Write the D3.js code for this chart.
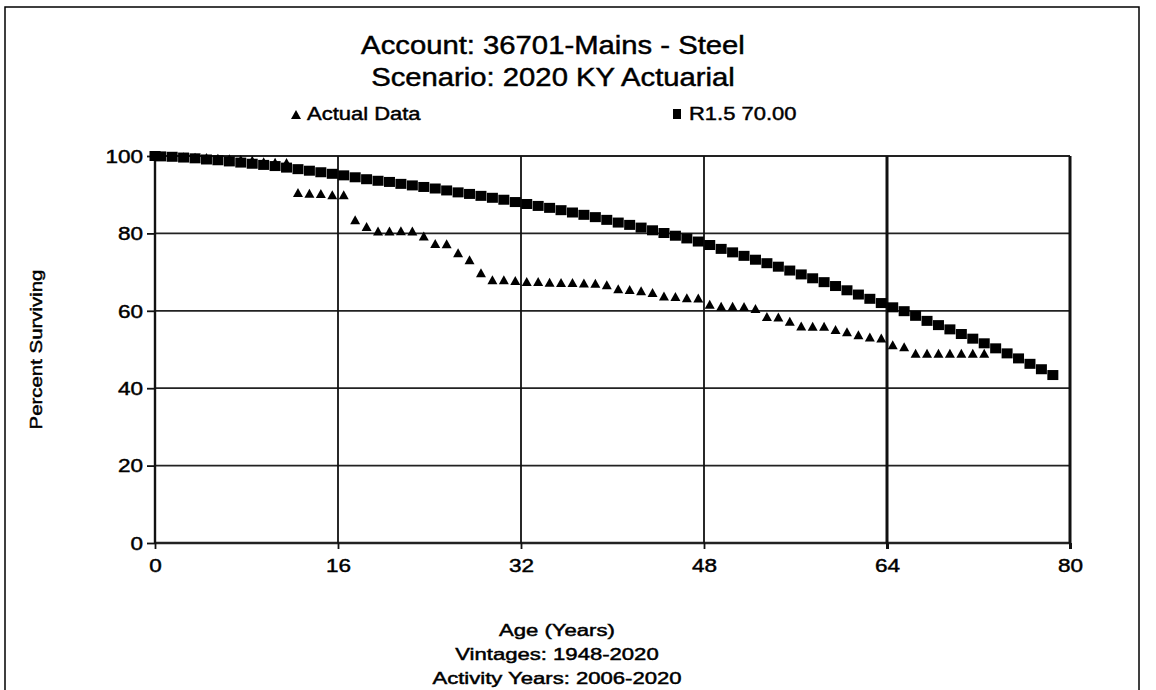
<!DOCTYPE html>
<html>
<head>
<meta charset="utf-8">
<script src="https://cdn.jsdelivr.net/npm/d3@7/dist/d3.min.js"></script>
<style>
body { margin: 0; background: #fff; }
text { font-family: "Liberation Sans", Arial, sans-serif; fill: #000; stroke: #000; stroke-width: 0.45px; }
</style>
</head>
<body>
<div id="graph"></div>
<script>
// chart text
var titleLines = ["Account: 36701-Mains - Steel", "Scenario: 2020 KY Actuarial"];
var legendNames = ["Actual Data", "R1.5 70.00"];
var footLines = ["Age (Years)", "Vintages: 1948-2020", "Activity Years: 2006-2020"];
var yTitle = "Percent Surviving";
var xTicks = [0, 16, 32, 48, 64, 80];
var yTicks = [0, 20, 40, 60, 80, 100];

// actual data (triangles)
var actualAge = [0, 0.5, 1.5, 2.5, 3.5, 4.5, 5.5, 6.5, 7.5, 8.5, 9.5, 10.5, 11.5, 12.5, 13.5, 14.5, 15.5, 16.5,
	17.5, 18.5, 19.5, 20.5, 21.5, 22.5, 23.5, 24.5, 25.5, 26.5, 27.5, 28.5, 29.5, 30.5, 31.5, 32.5, 33.5, 34.5,
	35.5, 36.5, 37.5, 38.5, 39.5, 40.5, 41.5, 42.5, 43.5, 44.5, 45.5, 46.5, 47.5, 48.5, 49.5, 50.5, 51.5, 52.5,
	53.5, 54.5, 55.5, 56.5, 57.5, 58.5, 59.5, 60.5, 61.5, 62.5, 63.5, 64.5, 65.5, 66.5, 67.5, 68.5, 69.5, 70.5,
	71.5, 72.5];
var actualPct = [100, 100, 99.9, 99.8, 99.7, 99.6, 99.4, 99.3, 99.1, 98.9, 98.5, 98.4, 98.3, 90.6, 90.4, 90.3, 90.0, 90.0,
	83.5, 81.8, 80.6, 80.6, 80.7, 80.6, 79.3, 77.4, 77.3, 75.0, 73.2, 69.8, 68.0, 68.0, 67.8, 67.6, 67.6, 67.4,
	67.3, 67.3, 67.2, 67.1, 66.7, 65.7, 65.5, 65.2, 64.7, 63.8, 63.7, 63.4, 63.3, 61.7, 61.2, 61.2, 61.1, 60.6,
	58.5, 58.4, 57.3, 56.1, 56.0, 56.0, 55.2, 54.6, 53.8, 53.2, 53.0, 51.2, 50.7, 49.0, 49.0, 49.0, 49.0, 49.0,
	49.0, 49.0];

// fitted curve (squares)
var curveAge = [0, 0.5, 1.5, 2.5, 3.5, 4.5, 5.5, 6.5, 7.5, 8.5, 9.5, 10.5, 11.5, 12.5, 13.5, 14.5, 15.5, 16.5,
	17.5, 18.5, 19.5, 20.5, 21.5, 22.5, 23.5, 24.5, 25.5, 26.5, 27.5, 28.5, 29.5, 30.5, 31.5, 32.5, 33.5, 34.5,
	35.5, 36.5, 37.5, 38.5, 39.5, 40.5, 41.5, 42.5, 43.5, 44.5, 45.5, 46.5, 47.5, 48.5, 49.5, 50.5, 51.5, 52.5,
	53.5, 54.5, 55.5, 56.5, 57.5, 58.5, 59.5, 60.5, 61.5, 62.5, 63.5, 64.5, 65.5, 66.5, 67.5, 68.5, 69.5, 70.5,
	71.5, 72.5, 73.5, 74.5, 75.5, 76.5, 77.5, 78.5];
var curvePct = [100, 99.9, 99.8, 99.6, 99.4, 99.1, 98.9, 98.6, 98.3, 98.0, 97.7, 97.4, 97.0, 96.6, 96.2, 95.8, 95.4, 95.0,
	94.5, 94.0, 93.6, 93.3, 92.8, 92.4, 92.0, 91.6, 91.1, 90.6, 90.2, 89.7, 89.2, 88.7, 88.1, 87.6, 87.1, 86.6,
	86.0, 85.4, 84.8, 84.2, 83.5, 82.8, 82.2, 81.5, 80.8, 80.1, 79.4, 78.7, 77.9, 77.0, 76.0, 75.1, 74.2, 73.2,
	72.3, 71.4, 70.4, 69.4, 68.4, 67.4, 66.4, 65.3, 64.2, 63.1, 62.0, 60.9, 59.9, 58.7, 57.4, 56.3, 55.2, 54.0,
	52.8, 51.6, 50.3, 49.0, 47.7, 46.3, 44.9, 43.4];

var svgWidth = 1156, svgHeight = 690;
var margin = {top: 156, right: 86, bottom: 147, left: 155};
var width = svgWidth - margin.left - margin.right;
var height = svgHeight - margin.top - margin.bottom;
var midX = 553; // text block centre

var xScale = d3.scaleLinear().domain([0, 80]).range([0, width]);
var yScale = d3.scaleLinear().domain([0, 100]).range([height, 0]);

// stretch text sideways, the source font is wide
function stretch(sel, k) {
	sel.each(function() {
		var w = this.getComputedTextLength();
		d3.select(this).attr("textLength", w * k).attr("lengthAdjust", "spacingAndGlyphs");
	});
}

var root = d3.select("#graph").append("svg")
	.attr("width", svgWidth)
	.attr("height", svgHeight);

// outer frame
root.append("rect")
	.attr("x", 5).attr("y", 7)
	.attr("width", 1134).attr("height", 700)
	.style("fill", "none").style("stroke", "#000").style("stroke-width", 1.5);

// titles
var titles = root.selectAll(".title").data(titleLines).enter().append("text")
	.attr("class", "title")
	.attr("x", midX)
	.attr("y", function(d, i) { return 54 + i * 32; })
	.attr("text-anchor", "middle")
	.style("font-size", "25px")
	.text(function(d) { return d; });
stretch(titles, 1.17);

// legend
var lg = root.append("g");
lg.append("path")
	.attr("d", "M291,119L296,110L301,119Z");
lg.append("rect").attr("x", 673).attr("y", 109).attr("width", 8).attr("height", 10);
var lgText = lg.selectAll(".lgtext").data(legendNames).enter().append("text")
	.attr("x", function(d, i) { return i == 0 ? 307 : 689; })
	.attr("y", 120)
	.style("font-size", "18px")
	.text(function(d) { return d; });
stretch(lgText, 1.22);

var svg = root.append("g")
	.attr("transform", "translate(" + margin.left + "," + margin.top + ")");

// horizontal grid
svg.selectAll(".hgrid").data(yTicks).enter().append("line")
	.attr("x1", 0).attr("x2", width)
	.attr("y1", function(d) { return yScale(d); })
	.attr("y2", function(d) { return yScale(d); })
	.style("stroke", "#222").style("stroke-width", function(d) { return d == 0 ? 2.4 : 1.8; });

// vertical grid, the last two come out heavier in the source
svg.selectAll(".vgrid").data(xTicks).enter().append("line")
	.attr("y1", 0).attr("y2", height)
	.attr("x1", function(d) { return xScale(d); })
	.attr("x2", function(d) { return xScale(d); })
	.style("stroke", "#111").style("stroke-width", function(d) { return d >= 64 ? 3 : (d == 0 ? 2.4 : 1.8); });

// y axis ticks + labels
var yAxis = svg.append("g")
	.call(d3.axisLeft(yScale).tickValues(yTicks).tickSize(8).tickPadding(4));
yAxis.select(".domain").remove();
yAxis.selectAll("line").style("stroke", "#111").style("stroke-width", 1.8);
yAxis.selectAll("text").style("font-size", "18px").style("font-family", "Liberation Sans, Arial, sans-serif").attr("dy", "0.35em");
stretch(yAxis.selectAll("text"), 1.25);

// x axis ticks + labels
var xAxis = svg.append("g")
	.attr("transform", "translate(0," + height + ")")
	.call(d3.axisBottom(xScale).tickValues(xTicks).tickSize(6).tickPadding(10));
xAxis.select(".domain").remove();
xAxis.selectAll("line").style("stroke", "#111").style("stroke-width", function(d) { return d >= 64 ? 3 : 1.8; });
xAxis.selectAll("text").style("font-size", "18px").style("font-family", "Liberation Sans, Arial, sans-serif");
stretch(xAxis.selectAll("text"), 1.25);

// Y axis title
var yt = root.append("text")
	.attr("transform", "translate(42," + (margin.top + height / 2) + ") rotate(-90)")
	.attr("text-anchor", "middle")
	.style("font-size", "17px")
	.text(yTitle);
stretch(yt, 1.2);

// footer lines
var foot = root.selectAll(".foot").data(footLines).enter().append("text")
	.attr("x", midX + 4)
	.attr("y", function(d, i) { return 636 + i * 24; })
	.attr("text-anchor", "middle")
	.style("font-size", "16px")
	.text(function(d) { return d; });
stretch(foot, 1.38);

// fitted curve squares
var curveData = curveAge.map(function(a, i) { return {age: a, pct: curvePct[i]}; });
svg.selectAll(".sq").data(curveData).enter().append("rect")
	.attr("x", function(d) { return xScale(d.age) - 5.5; })
	.attr("y", function(d) { return yScale(d.pct) - 5; })
	.attr("width", 11).attr("height", 10)
	.style("fill", "#000");

// actual data triangles
var actualData = actualAge.map(function(a, i) { return {age: a, pct: actualPct[i]}; });
svg.selectAll(".tri").data(actualData).enter().append("path")
	.attr("d", function(d) {
		var cx = xScale(d.age), cy = yScale(d.pct);
		return "M" + (cx - 5) + "," + (cy + 4.5) + "L" + cx + "," + (cy - 4.5) + "L" + (cx + 5) + "," + (cy + 4.5) + "Z";
	})
	.style("fill", "#000");
</script>
</body>
</html>
